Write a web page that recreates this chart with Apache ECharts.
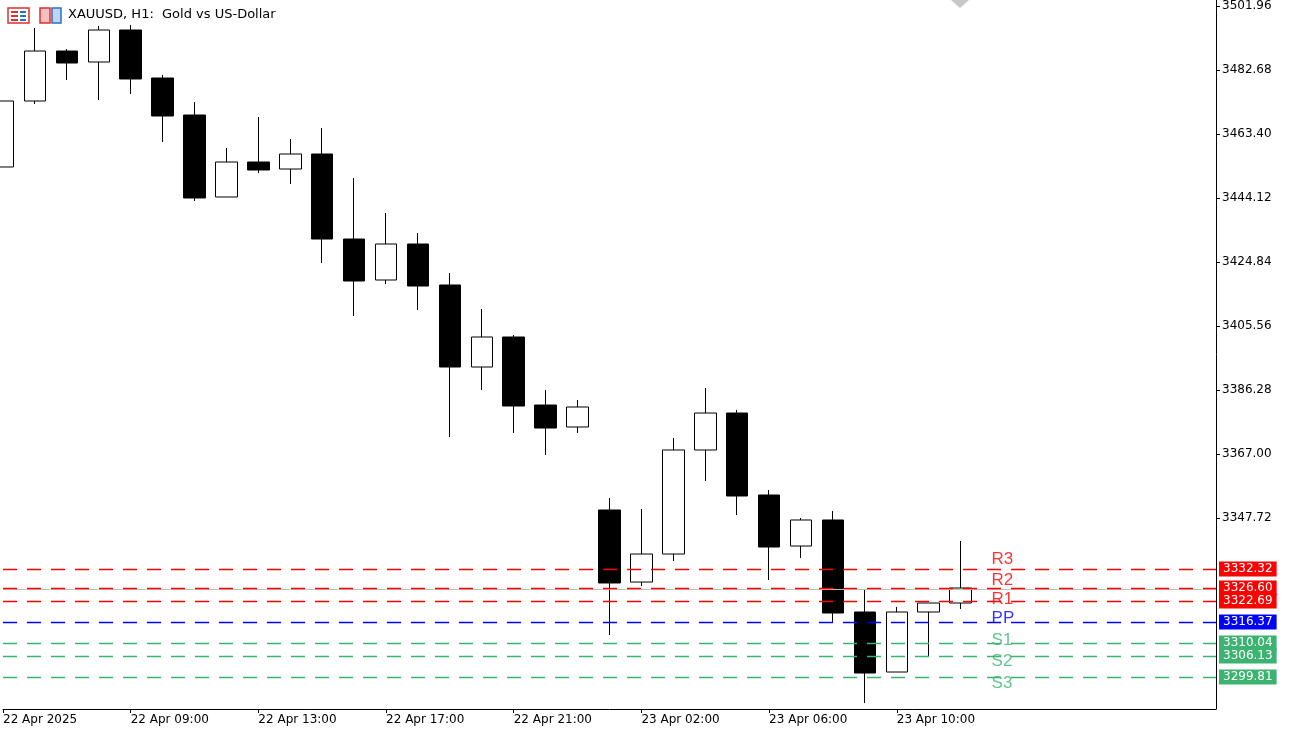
<!DOCTYPE html>
<html>
<head>
<meta charset="utf-8">
<script src="https://cdn.jsdelivr.net/npm/echarts@6/dist/echarts.min.js"></script>
<style>html,body{margin:0;padding:0;background:#fff}#container{width:1294px;height:730px}</style>
</head>
<body>
<div id="container"></div>
<script>
// bar times (H1), 22 Apr 05:00 .. 23 Apr 12:00
var times = ["22 Apr 2025","22 Apr 06:00","22 Apr 07:00","22 Apr 08:00","22 Apr 09:00","22 Apr 10:00","22 Apr 11:00","22 Apr 12:00",
  "22 Apr 13:00","22 Apr 14:00","22 Apr 15:00","22 Apr 16:00","22 Apr 17:00","22 Apr 18:00","22 Apr 19:00","22 Apr 20:00",
  "22 Apr 21:00","22 Apr 22:00","22 Apr 23:00","23 Apr 01:00","23 Apr 02:00","23 Apr 03:00","23 Apr 04:00","23 Apr 05:00",
  "23 Apr 06:00","23 Apr 07:00","23 Apr 08:00","23 Apr 09:00","23 Apr 10:00","23 Apr 11:00","23 Apr 12:00"];
var opens  = [3453.46,3473.34,3488.40,3485.09,3494.73,3480.27,3469.12,3444.42,3454.96,3452.85,3457.37,3431.76,3419.41,3430.26,3417.91,3393.20,
  3402.24,3381.75,3375.13,3350.12,3328.42,3336.86,3368.20,3379.34,3354.64,3339.27,3347.11,3319.39,3301.31,3319.39,3322.10];
var closes = [3473.34,3488.40,3484.79,3494.73,3479.97,3468.82,3444.12,3454.96,3452.55,3457.37,3431.76,3419.11,3430.26,3417.60,3393.20,3402.24,
  3381.45,3374.82,3381.15,3328.13,3336.86,3368.20,3379.34,3354.34,3338.97,3347.11,3319.09,3301.01,3319.39,3322.10,3326.62];
var lows   = [3453.46,3472.44,3479.67,3473.64,3475.45,3460.99,3443.21,3444.42,3451.65,3448.33,3424.53,3408.57,3418.21,3410.37,3372.11,3386.27,
  3373.32,3366.69,3373.32,3312.46,3327.20,3334.76,3358.86,3348.61,3329.03,3335.66,3316.08,3291.98,3301.31,3305.83,3320.29];
var highs  = [3473.34,3495.33,3489.01,3495.93,3496.24,3481.17,3473.04,3459.18,3468.52,3461.89,3465.21,3450.14,3439.60,3433.57,3421.52,3410.68,
  3402.84,3386.27,3383.26,3353.74,3350.42,3371.81,3386.87,3380.25,3356.15,3347.70,3349.82,3326.32,3320.90,3322.10,3340.78];

var pivotNames  = ["R3","R2","R1","PP","S1","S2","S3"];
var pivotValues = [3332.32,3326.60,3322.69,3316.37,3310.04,3306.13,3299.81];
var pivotColors = ["#ff0000","#ff0000","#ff0000","#0000ff","#3cb371","#3cb371","#3cb371"];
var lastPrice = 3326.30;

var yTicks = [3501.96,3482.68,3463.40,3444.12,3424.84,3405.56,3386.28,3367.00,3347.72];
var xLabelIdx = [0,4,8,12,16,20,24,28];

var emptySlots = 8;
var cats = times.concat(new Array(emptySlots).fill(""));
var candles = opens.map((o,i)=>[o, closes[i], lows[i], highs[i]]);
var nameOffsets = [-10,-8,-2,-4,-3,5,6];

var pivotSeries = pivotValues.map((v,i)=>({
  type:'line', data:[], silent:true,
  markLine:{
    symbol:'none', silent:true, animation:false,
    lineStyle:{color:pivotColors[i], type:[14,10], width:1.4},
    label:{show:true, position:'end', distance:3, formatter:v.toFixed(2), color:'#fff',
      backgroundColor:pivotColors[i], padding:[2,4,1,4], fontFamily:'DejaVu Sans', fontSize:12},
    data:[{yAxis:v}]
  }
}));

var chart = echarts.init(document.getElementById("container"));
var option = {
  animation:false,
  grid:{left:0, right:78, top:0, bottom:21},
  xAxis:{
    type:'category', data:cats, boundaryGap:false,
    axisLine:{lineStyle:{color:'#000'}},
    axisTick:{show:true, length:4, lineStyle:{color:'#000'}, interval:(i)=>xLabelIdx.indexOf(i)>=0},
    axisLabel:{interval:(i)=>xLabelIdx.indexOf(i)>=0, align:'left', margin:5, color:'#000',
      fontFamily:'DejaVu Sans', fontSize:12},
    splitLine:{show:false}
  },
  yAxis:{
    type:'value', position:'right', min:3290.17, max:3503.77, scale:true,
    axisLine:{show:true, lineStyle:{color:'#000'}},
    axisTick:{show:true, length:4, customValues:yTicks, lineStyle:{color:'#000'}},
    axisLabel:{customValues:yTicks, color:'#000', fontFamily:'DejaVu Sans', fontSize:12, margin:6,
      formatter:(v)=>v.toFixed(2)},
    splitLine:{show:false}
  },
  series:[
    {
      type:'candlestick', data:candles, barWidth:22,
      itemStyle:{color:'#fff', color0:'#000', borderColor:'#000', borderColor0:'#000', borderWidth:1},
      markLine:{
        symbol:'none', silent:true,
        lineStyle:{color:'#c0c0c0', type:'solid', width:1}, label:{show:false},
        data:[{yAxis:lastPrice}]
      }
    },
    {
      type:'scatter', symbolSize:0, silent:true,
      data:pivotValues.map((v,i)=>({
        value:[31, v],
        label:{show:true, position:'right', distance:-1, offset:[0,nameOffsets[i]], formatter:pivotNames[i],
          color:pivotColors[i], fontFamily:'Liberation Sans', fontSize:17}
      }))
    }
  ].concat(pivotSeries),
  graphic:[
    {type:'rect', shape:{x:8,y:8,width:21,height:15}, style:{fill:'#fff', stroke:'#e03030', lineWidth:1.5}},
    {type:'rect', shape:{x:11,y:11,width:7,height:2}, style:{fill:'#e03030'}},
    {type:'rect', shape:{x:11,y:15,width:7,height:2}, style:{fill:'#e03030'}},
    {type:'rect', shape:{x:11,y:19,width:7,height:2}, style:{fill:'#e03030'}},
    {type:'rect', shape:{x:20,y:11,width:6,height:2}, style:{fill:'#2a70c0'}},
    {type:'rect', shape:{x:20,y:15,width:6,height:2}, style:{fill:'#2a70c0'}},
    {type:'rect', shape:{x:20,y:19,width:6,height:2}, style:{fill:'#2a70c0'}},
    {type:'rect', shape:{x:40,y:8,width:10,height:15}, style:{fill:'#f6c0c0', stroke:'#e03030', lineWidth:1.5}},
    {type:'rect', shape:{x:52,y:8,width:9,height:15}, style:{fill:'#bcd8f4', stroke:'#2a70c0', lineWidth:1.5}},
    {type:'text', left:68, top:8, style:{text:'XAUUSD, H1:  Gold vs US-Dollar', fill:'#000',
      font:'13px "DejaVu Sans"'}},
    {type:'polygon', shape:{points:[[951,0],[969,0],[960,8]]}, style:{fill:'#c8c8c8'}}
  ]
};
chart.setOption(option);
</script>
</body>
</html>
